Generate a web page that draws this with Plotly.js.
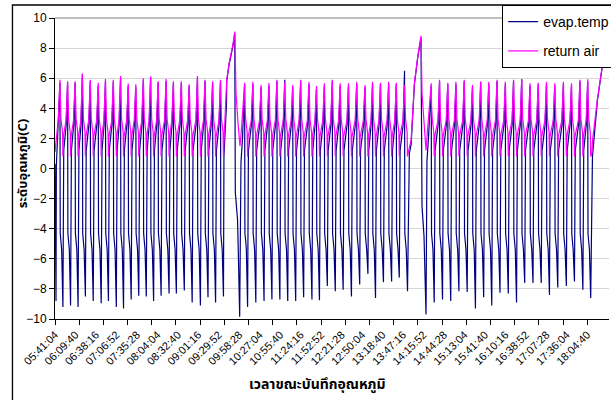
<!DOCTYPE html>
<html><head><meta charset="utf-8">
<script src="https://cdn.plot.ly/plotly-3.0.1.min.js"></script>
<style>html,body{margin:0;padding:0;overflow:hidden;background:#fff}#chart{width:620px;height:400px}</style>
</head><body><div id="chart"></div>
<script>
// x tick labels (time of day)
const tickLabels = ['05:41:04','06:09:40','06:38:16','07:06:52','07:35:28','08:04:04','08:32:40','09:01:16','09:29:52','09:58:28','10:27:04','10:55:40','11:24:16','11:52:52','12:21:28','12:50:04','13:18:40','13:47:16','14:15:52','14:44:28','15:13:04','15:41:40','16:10:16','16:38:52','17:07:28','17:36:04','18:04:40'];

// cycle peak times (minutes after 05:41:04) and values
const seg1PeakT = [6.9,17.6,28.1,38.3,49.3,60.4,70.5,81.5,91.6,102.3,112.9,123.4,133.6,144.1,155.2,165.4,176.5,187.5,199.0,209.6,220.2,231.2];
const seg1AirPeak = [5.9,5.8,5.8,6.3,5.9,5.7,5.95,5.9,6.15,5.65,5.6,6.0,6.1,5.8,5.95,5.8,5.8,5.6,6.15,5.9,5.8,5.9];
const seg1EvapPeak = [5.7,5.7,5.7,6.3,5.8,5.5,5.8,5.8,6.0,5.5,5.4,5.9,6.1,5.7,5.8,5.7,5.7,5.5,6.0,5.8,5.7,5.8];
const seg1EvapMin = [-9.2,-9.1,-9.2,-8.5,-8.8,-8.95,-8.8,-9.2,-9.3,-8.7,-8.45,-8.5,-8.8,-8.45,-8.3,-8.3,-8.1,-8.9,-9.1,-8.55,-8.9,-8.5];

const seg2PeakT = [264.9,276.4,287.9,298.9,310.0,321.0,332.1,343.2,354.8,365.3,376.3,387.4,398.4,410.0,421.5,433.0,443.6,454.7,466.1,476.8,488.3];
const seg2AirPeak = [5.7,5.77,5.55,5.68,5.9,5.77,5.55,5.9,5.77,5.48,5.66,5.9,5.66,5.66,5.77,5.55,5.77,5.7,5.77,5.7,5.55];
const seg2EvapPeak = [5.6,5.6,5.4,5.5,5.8,5.9,5.4,5.8,5.6,5.3,5.5,5.8,5.5,5.5,5.6,5.4,5.6,5.6,5.6,5.6,6.5];
const seg2EvapMin = [-9.2,-8.9,-8.8,-8.7,-8.7,-8.8,-8.8,-8.55,-8.7,-8.75,-7.8,-8.15,-8.05,-8.5,-7.7,-7.0,-8.6,-7.55,-7.5,-7.25,-8.15];

const seg3PeakT = [525.6,537.2,548.7,560.1,571.7,583.2,594.7,606.0,617.5,629.1,640.6,652.0,663.6,675.1,686.6,698.2,710.2,721.5,733.3,744.2];
const seg3AirPeak = [5.66,5.9,5.7,5.77,5.9,5.55,5.8,5.77,5.9,5.77,5.9,5.93,5.66,5.7,5.77,5.66,5.77,5.66,5.9,5.93];
const seg3EvapPeak = [5.5,5.8,5.6,5.6,5.8,5.4,5.7,5.6,5.8,5.6,5.8,5.93,5.5,5.6,5.6,5.5,5.6,5.5,5.8,5.8];
const seg3EvapMin = [-8.9,-8.7,-8.8,-8.15,-8.2,-9.3,-8.55,-9.1,-8.25,-8.3,-8.9,-7.6,-7.6,-7.6,-8.4,-7.9,-7.8,-7.5,-8.05,-8.6];

// start of record
const startEvapT = [0.0,1.4,1.9,3.8]; const startEvapV = [0.3,-8.8,0.2,2.0];
const startAirT = [0.0,2.5,4.7]; const startAirV = [1.1,2.3,3.3];
// defrost 1
const def1EvapT = [236.0,239.5,239.9,243.2,248.8,251.1,251.9,253.3,255.0,256.1,258.0,259.8,261.9];
const def1EvapV = [0.8,4.2,5.8,6.9,8.2,9.0,-1.6,-2.4,-3.4,-5.6,-9.85,0.4,2.0];
const def1AirT = [236.2,238.6,239.9,243.2,248.8,251.1,252.9,255.7,258.4,260.5];
const def1AirV = [2.0,4.5,5.9,7.0,8.3,9.1,5.0,3.0,1.5,2.6];
// defrost 2
const def2EvapT = [495.0,497.5,500.0,502.1,506.8,511.3,512.7,515.5,518.3,519.6,521.7];
const def2EvapV = [1.0,1.6,3.8,5.6,7.4,8.7,-2.5,-4.5,-9.7,0.5,2.0];
const def2AirT = [495.5,497.5,500.0,502.1,506.8,511.3,512.7,515.5,518.3,520.3];
const def2AirV = [1.5,1.9,3.9,5.7,7.45,8.8,5.0,3.0,1.2,2.5];
// final defrost start
const endEvapT = [750.8,757.7,764.6,765.8]; const endEvapV = [0.8,4.5,7.0,7.2];
const endAirT = [750.0,750.8,757.7,764.6,765.8]; const endAirV = [1.0,1.8,4.6,7.0,7.2];

const ev = {x:[],y:[]}, air = {x:[],y:[]};
function add(s,t,v){s.x.push(t);s.y.push(v);}
function addArr(s,T,V){T.forEach((t,i)=>add(s,t,V[i]));}
addArr(ev,startEvapT,startEvapV); addArr(air,startAirT,startAirV);
const segs = [
  [seg1PeakT,seg1AirPeak,seg1EvapPeak,seg1EvapMin,def1EvapT,def1EvapV,def1AirT,def1AirV],
  [seg2PeakT,seg2AirPeak,seg2EvapPeak,seg2EvapMin,def2EvapT,def2EvapV,def2AirT,def2AirV],
  [seg3PeakT,seg3AirPeak,seg3EvapPeak,seg3EvapMin,endEvapT,endEvapV,endAirT,endAirV]
];
segs.forEach(([P,A,E,M,eT,eV,aT,aV])=>{
  P.forEach((tp,i)=>{
    add(ev,tp,E[i]); add(ev,tp+0.4,-4.3); add(ev,tp+1.5,-4.8); add(ev,tp+2.4,-5.4); add(ev,tp+4.15,M[i]);
    add(air,tp,A[i]); add(air,tp+0.4,4.2); add(air,tp+1.4,3.3); add(air,tp+3.6,2.4); add(air,tp+4.15,0.8);
    if(i<P.length-1){const tn=P[i+1];
      add(ev,tp+4.55,0.2); add(ev,tp+5.3,1.2); add(ev,tn-2.0,2.9);
      add(air,tp+4.8,2.1); add(air,tn-2.2,3.2);}
  });
  addArr(ev,eT,eV); addArr(air,aT,aV);
});

function toMin(s){const p=s.split(':').map(Number);return p[0]*60+p[1]+p[2]/60;}
const t0 = toMin(tickLabels[0]);
const tickVals = tickLabels.map(l=>toMin(l)-t0);
const lastLab = tickVals[tickVals.length-1];

const font = 'Arial, "Liberation Sans", sans-serif';
const thai = 'Tahoma, "Noto Sans Thai", "Loma", "DejaVu Sans", sans-serif';
const traces = [
  {x:ev.x,y:ev.y,type:'scatter',mode:'lines',name:'evap.temp',line:{color:'#000080',width:1.2},legendgroup:'a'},
  {x:air.x,y:air.y,type:'scatter',mode:'lines',name:'return air',line:{color:'#FF00FF',width:1.2},legendgroup:'b'}
];
const W=620,H=400,L=55,R=5,T=18,B=81;
const pw=W-L-R, ph=H-T-B;
const px2x = p=>(p-L)/pw, py2y = p=>(H-B-p)/ph;
const layout = {
  width:W,height:H,margin:{l:L,r:R,t:T,b:B},paper_bgcolor:'#fff',plot_bgcolor:'#fff',
  showlegend:true,
  legend:{x:px2x(507),y:py2y(5),xanchor:'left',yanchor:'top',bgcolor:'#fff',bordercolor:'#000',borderwidth:1,
    font:{family:font,size:14,color:'#000'},traceorder:'grouped',tracegroupgap:8,itemwidth:30},
  xaxis:{range:[0,pw*1.382],tickmode:'array',tickvals:tickVals,ticktext:tickLabels,tickangle:-45,
    ticks:'outside',ticklen:4,tickcolor:'rgba(0,0,0,0)',
    showline:true,linecolor:'#000',linewidth:1,showgrid:false,zeroline:false,
    tickfont:{family:font,size:11,color:'#000'},
    minor:{tickmode:'linear',tick0:0.01,dtick:lastLab/22,ticks:'outside',ticklen:5,tickcolor:'#000',tickwidth:1,showgrid:false}},
  yaxis:{range:[-10,10],tick0:0,dtick:2,ticks:'outside',ticklen:5,tickcolor:'#000',showline:true,linecolor:'#000',linewidth:1,
    gridcolor:'#d6d6d6',gridwidth:1,zeroline:false,tickfont:{family:font,size:12,color:'#000'}},
  shapes:[
    {type:'line',xref:'paper',yref:'paper',x0:0,x1:1,y0:1,y1:1,line:{color:'#808080',width:1}},
    {type:'rect',xref:'paper',yref:'paper',x0:px2x(12),x1:px2x(640),y0:py2y(5),y1:py2y(410),line:{color:'#000',width:1.3}}
  ],
  annotations:[
    {text:'<b>ระดับอุณหภูมิ(C)</b>',textangle:-90,xref:'paper',yref:'paper',x:px2x(23),y:py2y(163),xanchor:'center',yanchor:'middle',showarrow:false,font:{family:thai,size:13,color:'#000'}},
    {text:'<b>เวลาขณะบันทึกอุณหภูมิ</b>',xref:'paper',yref:'paper',x:px2x(320),y:py2y(385),xanchor:'center',yanchor:'middle',showarrow:false,font:{family:thai,size:14,color:'#000'}}
  ]
};
Plotly.newPlot('chart',traces,layout,{displayModeBar:false,staticPlot:true});
</script></body></html>
